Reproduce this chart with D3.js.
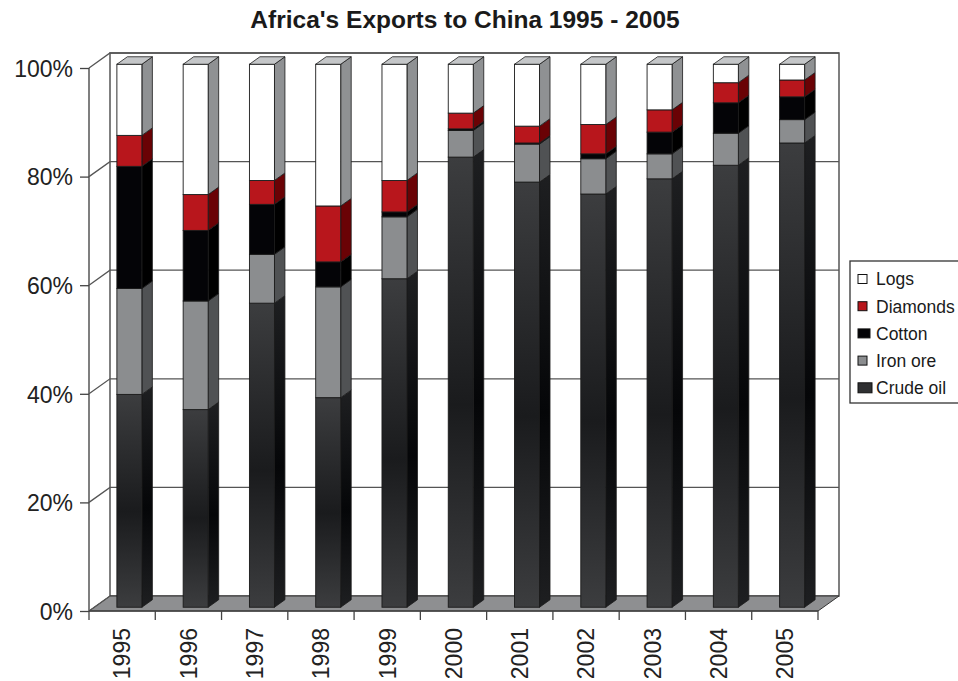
<!DOCTYPE html>
<meta charset="utf-8">
<script src="https://d3js.org/d3.v7.min.js"></script>
<body style="margin:0;background:#fff">
<div id="chart"></div>
</body>
<script>
    // data (shares in %)
    const years = ["1995", "1996", "1997", "1998", "1999", "2000", "2001", "2002", "2003", "2004", "2005"];
    const crudeOil = [39.2, 36.4, 56.0, 38.6, 60.5, 82.9, 78.3, 76.1, 78.9, 81.4, 85.5];
    const ironOre = [19.5, 20.0, 9.0, 20.4, 11.4, 4.9, 7.0, 6.5, 4.6, 5.9, 4.3];
    const cotton = [22.5, 13.0, 9.2, 4.6, 0.9, 0.3, 0.2, 0.9, 4.0, 5.6, 4.2];
    const diamonds = [5.7, 6.6, 4.4, 10.3, 5.8, 2.9, 3.1, 5.4, 4.1, 3.7, 3.1];
    const logs = [13.1, 24.0, 21.4, 26.1, 21.4, 9.0, 11.4, 11.1, 8.4, 3.4, 2.9];
    const yTicks = [0, 20, 40, 60, 80, 100];

    const series = [
        {name: "Crude oil", values: crudeOil, front: "url(#oilFront)", side: "url(#oilSide)"},
        {name: "Iron ore", values: ironOre, front: "#8b8d8f", side: "#505254"},
        {name: "Cotton", values: cotton, front: "#040407", side: "#000000"},
        {name: "Diamonds", values: diamonds, front: "#b8161c", side: "#6a0205"},
        {name: "Logs", values: logs, front: "#ffffff", side: "#8f9193"}
    ];

    const width = 958, height = 681;
    const depth = {x: 21, y: -15};     // offset of the back wall
    const dFront = 0.25, dBack = 0.75; // where the bars sit in depth
    const barW = 25;

    const svg = d3.select("#chart").append("svg")
        .attr("width", width)
        .attr("height", height)
        .style("font-family", "Arial, 'Liberation Sans', sans-serif");

    const defs = svg.append("defs");
    function vgrad(id, a, b) {
        const g = defs.append("linearGradient").attr("id", id)
            .attr("x1", 0).attr("y1", 0).attr("x2", 0).attr("y2", 1);
        g.append("stop").attr("offset", "0%").attr("stop-color", a);
        g.append("stop").attr("offset", "55%").attr("stop-color", b);
        g.append("stop").attr("offset", "100%").attr("stop-color", a);
    }
    vgrad("oilFront", "#3c3d3f", "#1a1b1d");
    vgrad("oilSide", "#1e1f21", "#050608");

    const x = d3.scaleBand().domain(years).range([89, 818]);
    const y = d3.scaleLinear().domain([0, 100]).range([611, 68]);

    const pt = (px, py, d) => [px + depth.x * d, py + depth.y * d];
    const poly = pts => pts.map(p => p.join(",")).join(" ");

    // walls
    const x0 = x.range()[0], x1 = x.range()[1];
    svg.append("polygon")
        .attr("points", poly([pt(x0, y(100), 1), pt(x1, y(100), 1), pt(x1, y(0), 1), pt(x0, y(0), 1)]))
        .attr("fill", "#fff").attr("stroke", "#555").attr("stroke-width", 1.5);
    svg.append("polygon")
        .attr("points", poly([pt(x0, y(0), 0), pt(x1, y(0), 0), pt(x1, y(0), 1), pt(x0, y(0), 1)]))
        .attr("fill", "#8e8f91").attr("stroke", "#333").attr("stroke-width", 1);
    svg.append("line")
        .attr("x1", x0).attr("y1", y(100)).attr("x2", x0).attr("y2", y(0))
        .attr("stroke", "#555").attr("stroke-width", 1.5);

    yTicks.forEach(t => {
        const a = pt(x0, y(t), 0), b = pt(x0, y(t), 1), c = pt(x1, y(t), 1);
        svg.append("polyline")
            .attr("points", poly(t === 0 ? [a, b] : [a, b, c]))
            .attr("fill", "none").attr("stroke", "#555").attr("stroke-width", 1.3);
    });

    // y axis
    svg.append("g")
        .attr("transform", "translate(" + x0 + ",0)")
        .call(d3.axisLeft(y).tickValues(yTicks).tickSize(9).tickPadding(7).tickFormat(d => d + "%"))
        .call(g => g.select(".domain").remove())
        .call(g => g.selectAll("line").attr("stroke", "#444").attr("stroke-width", 1.3))
        .call(g => g.selectAll("text").attr("fill", "#222").style("font-size", "23px").attr("dy", "0.36em"));

    // x axis: ticks at band edges, labels at band centres
    svg.append("g").selectAll("line")
        .data(years.concat(["end"]))
        .join("line")
        .attr("x1", (d, i) => x0 + i * x.step()).attr("x2", (d, i) => x0 + i * x.step())
        .attr("y1", y(0)).attr("y2", y(0) + 9)
        .attr("stroke", "#444").attr("stroke-width", 1.3);
    svg.append("line")
        .attr("x1", x0).attr("x2", x1).attr("y1", y(0)).attr("y2", y(0))
        .attr("stroke", "#444").attr("stroke-width", 1.3);
    svg.append("g").selectAll("text")
        .data(years)
        .join("text")
        .attr("transform", d => "translate(" + (x(d) + x.bandwidth() / 2) + "," + (y(0) + 17) + ") rotate(-90)")
        .attr("text-anchor", "end")
        .attr("dy", "0.36em")
        .attr("fill", "#222")
        .style("font-size", "23px")
        .text(d => d);

    // bars
    const bars = svg.append("g");
    years.forEach((yr, i) => {
        const left = x(yr) + (x.bandwidth() - barW) / 2 + 2;
        let acc = 0;
        series.forEach((s, k) => {
            const v0 = acc, v1 = acc + s.values[i];
            acc = v1;
            const fl = pt(left, y(v1), dFront), fr = pt(left + barW, y(v0), dFront);
            // side face
            bars.append("polygon")
                .attr("points", poly([
                    pt(left + barW, y(v1), dFront), pt(left + barW, y(v1), dBack),
                    pt(left + barW, y(v0), dBack), pt(left + barW, y(v0), dFront)]))
                .attr("fill", s.side).attr("stroke", "#1a1a1a").attr("stroke-width", 0.8);
            // front face
            bars.append("rect")
                .attr("x", fl[0]).attr("y", fl[1])
                .attr("width", barW).attr("height", fr[1] - fl[1])
                .attr("fill", s.front).attr("stroke", "#1a1a1a").attr("stroke-width", 0.9);
            if (k === series.length - 1) {
                bars.append("polygon")
                    .attr("points", poly([
                        pt(left, y(v1), dFront), pt(left, y(v1), dBack),
                        pt(left + barW, y(v1), dBack), pt(left + barW, y(v1), dFront)]))
                    .attr("fill", "#c4c6c8").attr("stroke", "#1a1a1a").attr("stroke-width", 0.8);
            }
        });
    });

    // title
    svg.append("text")
        .attr("x", 465).attr("y", 28)
        .attr("text-anchor", "middle")
        .attr("fill", "#1a1a1a")
        .style("font-size", "24.5px").style("font-weight", "bold")
        .text("Africa's Exports to China 1995 - 2005");

    // legend
    const legend = svg.append("g");
    legend.append("rect")
        .attr("x", 850).attr("y", 261).attr("width", 130).attr("height", 142)
        .attr("fill", "#fff").attr("stroke", "#333").attr("stroke-width", 1.3);
    const legendItems = series.slice().reverse();
    const sw = {"Logs": [9, 9], "Diamonds": [9, 9], "Cotton": [12, 9], "Iron ore": [9, 9], "Crude oil": [14, 10]};
    legendItems.forEach((s, i) => {
        const cy = 279 + i * 27.2;
        const [w, h] = sw[s.name];
        legend.append("rect")
            .attr("x", 858).attr("y", cy - h / 2).attr("width", w).attr("height", h)
            .attr("fill", s.name === "Crude oil" ? "#2f3032" : (s.name === "Iron ore" ? "#8b8d8f" : s.front))
            .attr("stroke", "#111").attr("stroke-width", 1);
        legend.append("text")
            .attr("x", 876).attr("y", cy).attr("dy", "0.36em")
            .attr("fill", "#1a1a1a")
            .style("font-size", "17.5px")
            .text(s.name);
    });
</script>
